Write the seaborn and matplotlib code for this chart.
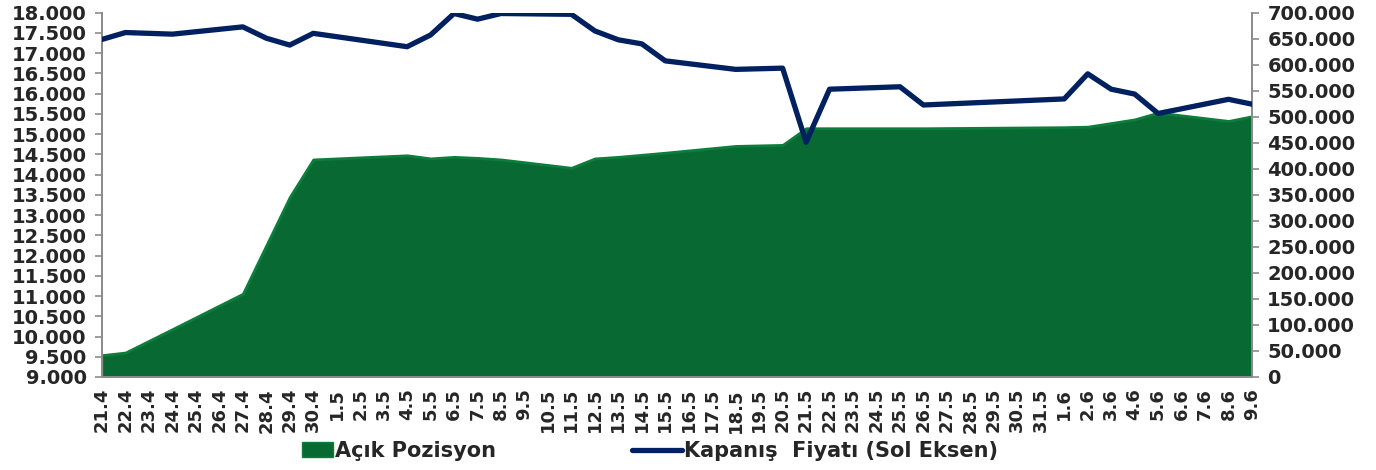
import matplotlib
matplotlib.use("Agg")
import matplotlib.pyplot as plt
import matplotlib.ticker as mticker
from matplotlib.patches import Patch
from matplotlib.lines import Line2D
import seaborn as sns
import pandas as pd

# x axis categories (every calendar day shown on the axis)
axis_days = ["21.4", "22.4", "23.4", "24.4", "25.4", "26.4", "27.4", "28.4", "29.4", "30.4",
             "1.5", "2.5", "3.5", "4.5", "5.5", "6.5", "7.5", "8.5", "9.5", "10.5",
             "11.5", "12.5", "13.5", "14.5", "15.5", "16.5", "17.5", "18.5", "19.5", "20.5",
             "21.5", "22.5", "23.5", "24.5", "25.5", "26.5", "27.5", "28.5", "29.5", "30.5",
             "31.5", "1.6", "2.6", "3.6", "4.6", "5.6", "6.6", "7.6", "8.6", "9.6"]

# days with data
data_days = ["21.4", "22.4", "24.4", "27.4", "28.4", "29.4", "30.4", "4.5", "5.5", "6.5",
             "7.5", "8.5", "11.5", "12.5", "13.5", "14.5", "15.5", "18.5", "20.5", "21.5",
             "22.5", "25.5", "26.5", "1.6", "2.6", "3.6", "4.6", "5.6", "8.6", "9.6"]

# closing price (left axis)
kapanis = [17340, 17510, 17470, 17650, 17370, 17200, 17490, 17160, 17450, 17980,
           17840, 17980, 17960, 17550, 17330, 17230, 16810, 16600, 16630, 14800,
           16110, 16170, 15720, 15870, 16490, 16110, 15990, 15510, 15860, 15740]

# open position (right axis)
acik_pozisyon = [42000, 47000, 92000, 160000, 253000, 346000, 418000, 426000, 420000, 423000,
                 421000, 418000, 402000, 420000, 423000, 427000, 431000, 444000, 446000, 478000,
                 478000, 478000, 478000, 480000, 481000, 488000, 495000, 508000, 492000, 501000]

df = pd.DataFrame({"gun": data_days, "kapanis": kapanis, "acik": acik_pozisyon})
df["x"] = [axis_days.index(g) for g in df["gun"]]

sns.set_style("white")
plt.rcParams["font.family"] = ["DejaVu Sans"]
plt.rcParams["font.weight"] = "bold"

green = "#086a32"
green_edge = "#0d7d3c"
navy = "#002060"
grey = "#8c8c8c"

fig = plt.figure(figsize=(13.76, 4.70), dpi=100)
ax = fig.add_axes([102 / 1376, 1 - 377 / 470, (1252 - 102) / 1376, (377 - 12.7) / 470])

# area on the base axes (drawn first, behind the line)
ax.fill_between(df["x"], 0, df["acik"], color=green, edgecolor=green_edge, linewidth=2, zorder=2)
ax.set_ylim(0, 700000)
ax.set_xlim(0, len(axis_days) - 1)

# line on the twin axes
ax2 = ax.twinx()
sns.lineplot(data=df, x="x", y="kapanis", ax=ax2, color=navy, linewidth=3.8, sort=False,
             legend=False, zorder=3)
ax2.set_ylim(9000, 18000)
ax2.set_xlabel("")
ax2.set_ylabel("")
ax.set_ylabel("")

# swap sides: open position on the right, price on the left
ax.yaxis.tick_right()
ax.yaxis.set_label_position("right")
ax2.yaxis.tick_left()
ax2.yaxis.set_label_position("left")

ax.yaxis.set_major_locator(mticker.MultipleLocator(50000))
ax.yaxis.set_major_formatter(mticker.FuncFormatter(lambda v, p: "0" if v == 0 else f"{v:,.0f}".replace(",", ".")))
ax2.yaxis.set_major_locator(mticker.MultipleLocator(500))
ax2.yaxis.set_major_formatter(mticker.FuncFormatter(lambda v, p: f"{v:,.0f}".replace(",", ".")))

ax.set_xticks(range(len(axis_days)))
ax.set_xticklabels(axis_days, rotation=90, fontsize=13, fontweight="bold")

for a in (ax, ax2):
    for s in a.spines.values():
        s.set_color(grey)
        s.set_linewidth(1.3)
    a.spines["top"].set_visible(False)
    a.tick_params(direction="out", length=5, width=1.2, color=grey, labelsize=14)
ax.tick_params(axis="x", length=5, pad=3, labelsize=13)
ax.tick_params(axis="y", pad=6)
ax2.tick_params(axis="y", pad=6)
for lbl in ax.get_yticklabels() + ax2.get_yticklabels():
    lbl.set_fontweight("bold")

# legends
fig.legend(handles=[Patch(facecolor=green, edgecolor=green_edge)], labels=["Açık Pozisyon"],
           loc="center left", bbox_to_anchor=(302 / 1376, 1 - 451 / 470), frameon=False,
           handlelength=1.5, handleheight=0.7, handletextpad=0.1, borderpad=0, borderaxespad=0,
           prop={"size": 15, "weight": "bold"})
fig.legend(handles=[Line2D([0], [0], color=navy, linewidth=3.8)],
           labels=["Kapanış  Fiyatı (Sol Eksen)"],
           loc="center left", bbox_to_anchor=(632 / 1376, 1 - 451 / 470), frameon=False,
           handlelength=2.4, handletextpad=0.1, borderpad=0, borderaxespad=0,
           prop={"size": 15, "weight": "bold"})

plt.savefig("out.png", dpi=100)
plt.close()
